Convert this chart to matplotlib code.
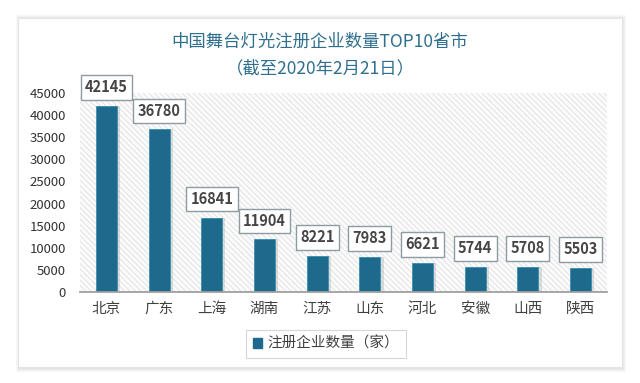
import matplotlib
matplotlib.use("Agg")
import matplotlib.pyplot as plt
from matplotlib.patches import Rectangle
import numpy as np

plt.rcParams['font.family'] = ['Noto Sans CJK SC', 'DejaVu Sans']
plt.rcParams['hatch.linewidth'] = 0.5
plt.rcParams['hatch.color'] = '#dadada'

categories = ['北京', '广东', '上海', '湖南', '江苏', '山东', '河北', '安徽', '山西', '陕西']
values = [42145, 36780, 16841, 11904, 8221, 7983, 6621, 5744, 5708, 5503]
yticks = [0, 5000, 10000, 15000, 20000, 25000, 30000, 35000, 40000, 45000]
title1 = '中国舞台灯光注册企业数量TOP10省市'
title2 = '（截至2020年2月21日）'
series_name = '注册企业数量（家）'

W, H = 640, 383
fig = plt.figure(figsize=(W / 100, H / 100), dpi=100)
fig.patch.set_facecolor('white')

def fx(px):
    return px / W

def fy(py):
    return 1 - py / H

# card shadow
for i, a in enumerate([0.05, 0.05, 0.06, 0.07]):
    off = 4 - i
    fig.patches.append(Rectangle((fx(18 - off + 2), fy(367 + off + 1)),
                                 fx(604 + 2 * off - 2), (349 + 2 * off) / H,
                                 transform=fig.transFigure, facecolor='#808080',
                                 edgecolor='none', alpha=a, zorder=0))
fig.patches.append(Rectangle((fx(18), fy(367)), fx(604), 349 / H,
                             transform=fig.transFigure, facecolor='white',
                             edgecolor='#e4e4e4', lw=0.8, zorder=1))

ax = fig.add_axes([fx(80), fy(292), fx(607 - 80), (292 - 93) / H])
ax.set_zorder(2)
ax.patch.set_alpha(0)

x = np.arange(len(categories))
ax.set_xlim(-0.5, len(categories) - 0.5)
ax.set_ylim(0, 45000)

# hatched background
ax.add_patch(Rectangle((0, 0), 1, 1, transform=ax.transAxes, facecolor='#fbfbfb',
                       edgecolor='#dadada', hatch='\\\\\\\\\\\\', lw=0, zorder=0))

bar_color = '#1d6a8c'
# bar shadows
ax.bar(x + 0.06, values, width=0.4, color='#9a9a9a', alpha=0.3, zorder=1)
ax.bar(x, values, width=0.4, color=bar_color, zorder=2, edgecolor='#3a8fb3', lw=0.6)

for xi, v in zip(x, values):
    ax.annotate(f'{v}', (xi, v), xytext=(0, 7.5), textcoords='offset points',
                ha='center', va='bottom', fontsize=10.5, color='#454545', fontweight='semibold',
                bbox=dict(boxstyle='square,pad=0.3', fc='white', ec='#8d9ca1', lw=1),
                zorder=5)

ax.set_xticks(x)
ax.set_xticklabels(categories, fontsize=10.5, color='#404040')
ax.set_yticks(yticks)
ax.set_yticklabels([str(t) for t in yticks], fontsize=9.5, color='#333333')
ax.tick_params(axis='both', length=0)
ax.tick_params(axis='x', pad=7)
ax.tick_params(axis='y', pad=10)
for s in ['top', 'right', 'left']:
    ax.spines[s].set_visible(False)
ax.spines['bottom'].set_color('#a0a0a0')
ax.spines['bottom'].set_linewidth(1.3)
ax.spines['bottom'].set_zorder(3)

title_color = '#2e6f8e'
fig.text(fx(320), fy(42), title1, ha='center', va='center', fontsize=12.5, color=title_color,
         fontweight='medium')
fig.text(fx(320), fy(68), title2, ha='center', va='center', fontsize=12.5, color=title_color,
         fontweight='medium')

leg = fig.legend(handles=[Rectangle((0, 0), 1, 1, color=bar_color)], labels=[series_name],
                 loc='center', bbox_to_anchor=(fx(326), fy(344)), fontsize=10.5,
                 frameon=True, fancybox=False, edgecolor='#cccccc', handlelength=0.6,
                 handleheight=0.6, handletextpad=0.4, borderpad=0.5)
leg.get_frame().set_linewidth(0.8)
for t in leg.get_texts():
    t.set_color('#404040')
leg.set_zorder(6)

fig.savefig('out.png', dpi=100, facecolor='white')
